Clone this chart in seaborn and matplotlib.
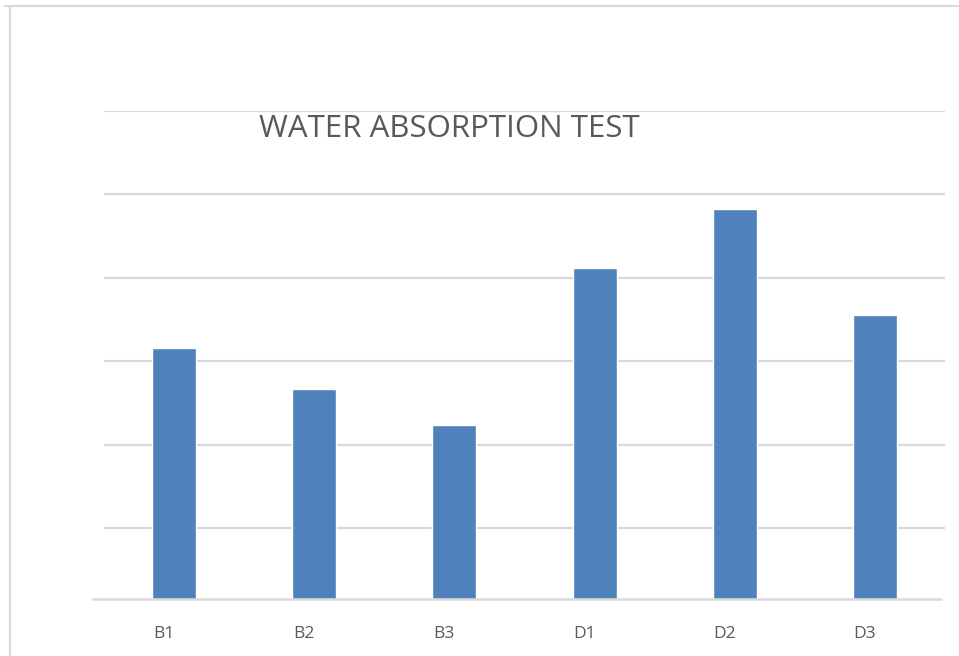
import matplotlib.pyplot as plt
from matplotlib.lines import Line2D
import matplotlib.transforms as mtransforms
import seaborn as sns
import numpy as np
import pandas as pd

# data (in units of one gridline step)
samples = ['B1', 'B2', 'B3', 'D1', 'D2', 'D3']
absorption = [3.00, 2.51, 2.08, 3.96, 4.66, 3.39]
grid_values = [0.84, 1.84, 2.84, 3.84, 4.84, 5.84]

sns.set_style('white')
plt.rcParams['font.family'] = ['Open Sans', 'DejaVu Sans']

df = pd.DataFrame({'sample': samples, 'absorption': absorption})

fig = plt.figure(figsize=(9.59, 6.56), dpi=100)
ax = fig.add_axes([104 / 959, 57.3 / 656, 841 / 959, 488.2 / 656])

sns.barplot(data=df, x='sample', y='absorption', color='#4F81BD',
            width=0.314, saturation=1, ax=ax, zorder=3)

ax.set_ylim(0, 5.84)
ax.set_xlim(-0.5, 5.5)
ax.set_yticks(grid_values)
ax.set_yticklabels([])
ax.yaxis.grid(True, color='#d9d9d9', lw=1.6)
ax.set_axisbelow(True)
ax.tick_params(axis='both', length=0)
ax.tick_params(axis='x', labelsize=12.5, labelcolor='#595959', pad=20)
ax.set_xlabel('')
ax.set_ylabel('')
for s in ax.spines.values():
    s.set_visible(False)

# labels sit a little left of the bars
offset = mtransforms.ScaledTranslation(-10 / 100, 0, fig.dpi_scale_trans)
for lab in ax.get_xticklabels():
    lab.set_transform(lab.get_transform() + offset)

# baseline
ax.axhline(0, xmin=-11 / 841, xmax=0.995, color='#d9d9d9', lw=1.8,
           clip_on=False, zorder=4)

fig.text(449 / 959, (656 - 129) / 656, 'WATER ABSORPTION TEST',
         ha='center', va='center', fontsize=22.5, color='#595959')

# outer chart border (top and left)
fig.add_artist(Line2D([5 / 959, 1], [1 - 6 / 656, 1 - 6 / 656],
                      transform=fig.transFigure, color='#d9d9d9', lw=1.5))
fig.add_artist(Line2D([10 / 959, 10 / 959], [0, 1 - 6 / 656],
                      transform=fig.transFigure, color='#d9d9d9', lw=1.5))

fig.savefig('out.png', dpi=100)
